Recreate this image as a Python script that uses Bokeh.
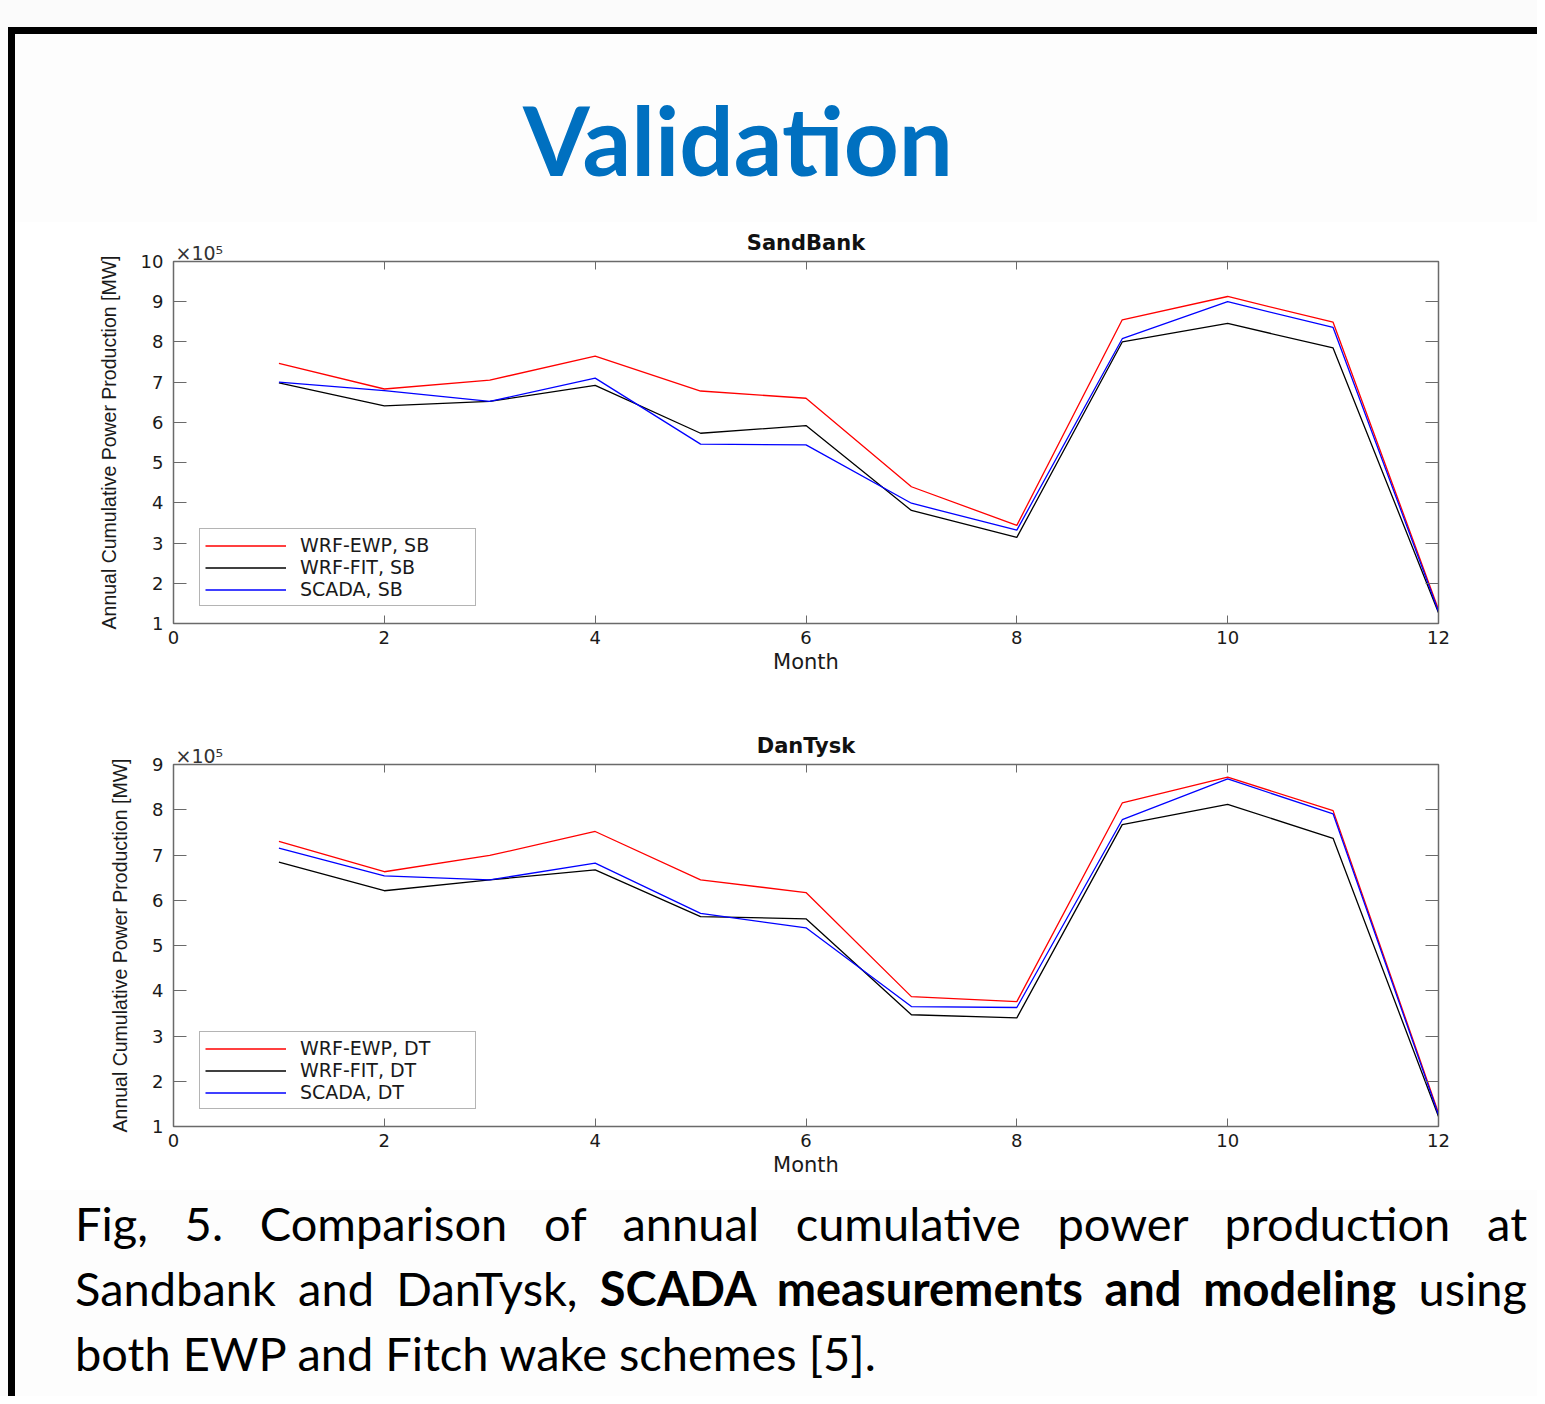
from bokeh.plotting import figure
from bokeh.models import (Range1d, LinearAxis, FixedTicker, Legend, LegendItem,
                          Title, Div)
from bokeh.layouts import column, row
from bokeh.embed import file_html
from bokeh.resources import INLINE

# ---------------- data (values in units of 10^5 MW) ----------------
months = [1, 2, 3, 4, 5, 6, 7, 8, 9, 10, 11, 12]
x_ticks = [0, 2, 4, 6, 8, 10, 12]

sb_ewp = [7.47, 6.83, 7.05, 7.65, 6.78, 6.60, 4.40, 3.44, 8.55, 9.13, 8.49, 1.35]
sb_fit = [6.98, 6.41, 6.52, 6.92, 5.73, 5.92, 3.81, 3.14, 8.00, 8.46, 7.85, 1.27]
sb_scada = [7.00, 6.79, 6.52, 7.10, 5.46, 5.44, 3.99, 3.32, 8.08, 9.00, 8.36, 1.30]
sb_labels = ["WRF-EWP, SB", "WRF-FIT, SB", "SCADA, SB"]

dt_ewp = [7.30, 6.63, 6.99, 7.52, 6.45, 6.17, 3.87, 3.76, 8.15, 8.72, 7.98, 1.30]
dt_fit = [6.84, 6.21, 6.45, 6.67, 5.64, 5.59, 3.47, 3.40, 7.67, 8.12, 7.37, 1.22]
dt_scada = [7.15, 6.54, 6.45, 6.82, 5.71, 5.39, 3.65, 3.63, 7.78, 8.68, 7.91, 1.26]
dt_labels = ["WRF-EWP, DT", "WRF-FIT, DT", "SCADA, DT"]

series_colors = ["#ff0000", "#000000", "#0000ff"]
scale_text = "\u00d710\u2075"

AX = "#6a6a6a"
TXT = "#1a1a1a"
PFONT = "DejaVu Sans"


def make_panel(title, ymax, series, labels, height, top, bottom):
    p = figure(width=1522, height=height, x_range=Range1d(0, 12),
               y_range=Range1d(1, ymax), output_backend="svg",
               toolbar_location=None, min_border_left=158,
               min_border_right=99, min_border_top=top,
               min_border_bottom=bottom, background_fill_color="white",
               border_fill_color="white", outline_line_color=AX,
               outline_line_width=1.5)
    p.grid.visible = False

    p.title.text = title
    p.title.align = "center"
    p.title.text_font = PFONT
    p.title.text_font_size = "21px"
    p.title.text_font_style = "bold"
    p.title.text_color = "#111111"
    p.title.standoff = -24

    xa = p.xaxis[0]
    xa.ticker = FixedTicker(ticks=x_ticks)
    xa.major_tick_in = 8
    xa.major_tick_out = 0
    xa.minor_tick_line_color = None
    xa.axis_line_color = AX
    xa.major_tick_line_color = AX
    xa.major_label_text_font = PFONT
    xa.major_label_text_font_size = "18px"
    xa.major_label_text_color = TXT
    xa.major_label_standoff = 7
    xa.axis_label = "Month"
    xa.axis_label_text_font = PFONT
    xa.axis_label_text_font_size = "21px"
    xa.axis_label_text_font_style = "normal"
    xa.axis_label_text_color = TXT
    xa.axis_label_standoff = 3

    ya = p.yaxis[0]
    ya.ticker = FixedTicker(ticks=list(range(1, ymax + 1)))
    ya.major_tick_in = 13
    ya.major_tick_out = 0
    ya.minor_tick_line_color = None
    ya.axis_line_color = AX
    ya.major_tick_line_color = AX
    ya.major_label_text_font = PFONT
    ya.major_label_text_font_size = "18px"
    ya.major_label_text_color = TXT
    ya.major_label_standoff = 10
    ya.axis_label = "Annual Cumulative Power Production [MW]"
    ya.axis_label_text_font = "Liberation Sans"
    ya.axis_label_text_font_size = "19.5px"
    ya.axis_label_text_font_style = "normal"
    ya.axis_label_text_color = TXT
    ya.axis_label_standoff = 18

    top_ax = LinearAxis(ticker=FixedTicker(ticks=x_ticks), major_tick_in=8,
                        major_tick_out=0, minor_tick_line_color=None,
                        axis_line_color=AX, major_tick_line_color=AX,
                        major_label_text_font_size="1px",
                        major_label_text_color=None,
                        major_label_standoff=0)
    right_ax = LinearAxis(ticker=FixedTicker(ticks=list(range(1, ymax + 1))),
                          major_tick_in=13, major_tick_out=0,
                          minor_tick_line_color=None, axis_line_color=AX,
                          major_tick_line_color=AX,
                          major_label_text_font_size="1px",
                          major_label_text_color=None,
                          major_label_standoff=0)
    p.add_layout(top_ax, "above")
    p.add_layout(right_ax, "right")

    # exponent label at the top-left corner, on the same row as the title
    p.add_layout(Title(text=scale_text, align="left", offset=2, standoff=-5,
                       text_font=PFONT, text_font_size="19px",
                       text_font_style="normal", text_color="#333333"),
                 "above")

    items = []
    for vals, lab, col in zip(series, labels, series_colors):
        r = p.line(months, vals, line_color=col, line_width=1.3)
        items.append(LegendItem(label=lab, renderers=[r]))

    leg = Legend(items=items, location=(26, 17), border_line_color=AX,
                 border_line_width=1.5, background_fill_color="white",
                 background_fill_alpha=1.0, label_text_font=PFONT,
                 label_text_font_size="19px", label_text_color=TXT,
                 glyph_width=81, glyph_height=19, label_height=19,
                 label_standoff=14, label_width=170, padding=5, spacing=0,
                 margin=0)
    p.add_layout(leg, "center")
    return p


p1 = make_panel("SandBank", 10, [sb_ewp, sb_fit, sb_scada], sb_labels,
                468, 39, 67)
p2 = make_panel("DanTysk", 9, [dt_ewp, dt_fit, dt_scada], dt_labels,
                500, 74, 64)

top_bar = Div(width=1537, height=34, margin=0, text=(
    '<div style="position:relative;width:1537px;height:34px;background:#fbfbfb">'
    '<div style="position:absolute;left:8px;top:27px;width:1529px;height:7px;'
    'background:#000"></div></div>'))

left_pad = Div(width=8, height=1362, margin=0, text=(
    '<div style="width:8px;height:1362px;background:#fbfbfb"></div>'))

left_bar = Div(width=7, height=1362, margin=0, text=(
    '<div style="width:7px;height:1362px;background:#000"></div>'))

title_div = Div(width=1522, height=188, margin=0, text=(
    '<div style="position:relative;width:1522px;height:188px;background:#fdfdfd">'
    '<div style="position:absolute;left:0;top:57px;width:1446px;'
    'text-align:center;font-family:Lato;font-weight:bold;font-size:96px;'
    'line-height:96px;color:#0070C0">Validation</div></div>'))

cap_style = ("font-family:Lato;font-size:47px;line-height:65px;color:#000;"
             "text-align:justify;text-align-last:justify;")
caption_div = Div(width=1522, height=206, margin=0, text=(
    '<div style="box-sizing:border-box;width:1522px;height:206px;'
    'padding-left:60px;padding-right:10px;padding-top:1px;background:#fdfdfd">'
    f'<div style="{cap_style}">Fig, 5. Comparison of annual cumulative power production at</div>'
    f'<div style="{cap_style}">Sandbank and DanTysk, <b>SCADA measurements and modeling</b> using</div>'
    '<div style="font-family:Lato;font-size:47px;line-height:65px;color:#000;'
    'text-align:left">both EWP and Fitch wake schemes [5].</div></div>'))

inner = column(title_div, p1, p2, caption_div, spacing=0)
layout = column(top_bar, row(left_pad, left_bar, inner, spacing=0), spacing=0)

open("out.html", "w").write(file_html(layout, INLINE, title="Validation"))
